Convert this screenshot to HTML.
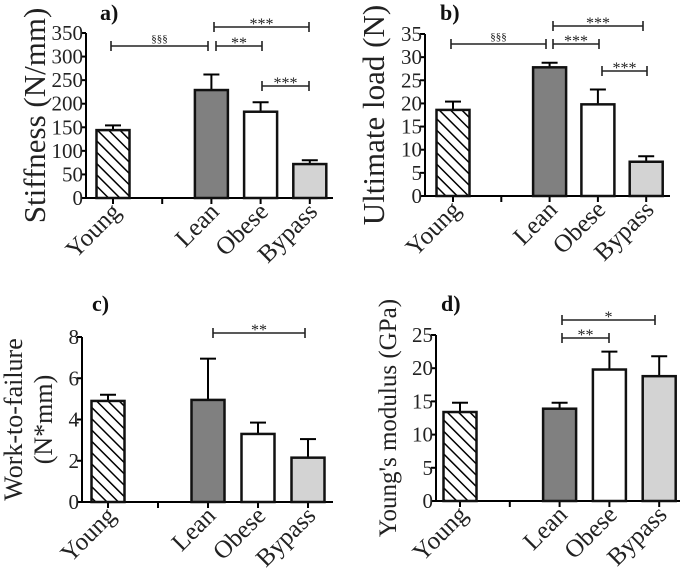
<!DOCTYPE html>
<html><head><meta charset="utf-8"><style>
html,body{margin:0;padding:0;background:#fff}
svg{display:block}
svg text{font-family:"Liberation Serif","Times New Roman",serif}
</style></head><body>
<svg id="c" width="685" height="571" viewBox="0 0 685 571" xmlns="http://www.w3.org/2000/svg">
<defs>
<pattern id="hatch" patternUnits="userSpaceOnUse" width="8" height="8" patternTransform="rotate(-45)">
<rect width="8" height="8" fill="#fff"/><line x1="0" y1="0" x2="0" y2="8" stroke="#000" stroke-width="3"/>
</pattern>
</defs>
</svg>
<script>
const categories = ["Young", "", "Lean", "Obese", "Bypass"];
const stiffnessValues = [144, null, 229, 183, 72];
const stiffnessErrors = [10, null, 33, 20, 8];
const loadValues = [18.6, null, 27.8, 19.8, 7.4];
const loadErrors = [1.8, null, 1.0, 3.2, 1.2];
const workValues = [4.9, null, 4.95, 3.3, 2.15];
const workErrors = [0.3, null, 2.0, 0.55, 0.9];
const modulusValues = [13.4, null, 13.9, 19.8, 18.8];
const modulusErrors = [1.4, null, 0.9, 2.7, 3.0];
const stiffnessTicks = [0, 50, 100, 150, 200, 250, 300, 350];
const loadTicks = [0, 5, 10, 15, 20, 25, 30, 35];
const workTicks = [0, 2, 4, 6, 8];
const modulusTicks = [0, 5, 10, 15, 20, 25];

const NS = "http://www.w3.org/2000/svg";
const svg = document.getElementById('c');
const SERIF = 'Liberation Serif, serif';
function mk(tag, attrs, parent, text) {
  const e = document.createElementNS(NS, tag);
  for (const k in attrs) e.setAttribute(k, attrs[k]);
  if (text !== undefined) e.textContent = text;
  (parent || svg).appendChild(e);
  return e;
}
const fills = ["url(#hatch)", "none", "#808080", "#ffffff", "#d3d3d3"];

function panel(cfg) {
  const g = mk('g', {});
  
  
  const max = cfg.ticks[cfg.ticks.length - 1];
  const y = v => cfg.y0 - (v / max) * (cfg.y0 - cfg.yTop);
  const x = i => cfg.x1 + i * cfg.step;
  const ax = mk('line', {x1: cfg.ax, y1: cfg.yTop, x2: cfg.ax, y2: cfg.y0, stroke: '#000', 'stroke-width': 2}, g);
  
  
  const xa = mk('line', {x1: cfg.ax, y1: cfg.y0, x2: cfg.axEnd, y2: cfg.y0, stroke: '#000', 'stroke-width': 2}, g);
  
  
  cfg.ticks.forEach(t => {
    mk('line', {x1: cfg.ax - 5, y1: y(t), x2: cfg.ax, y2: y(t), stroke: '#000', 'stroke-width': 2}, g);
    const tl = mk('text', {x: cfg.ax - 3, y: y(t) + 7, 'text-anchor': 'end', 'font-size': 21, 'font-family': SERIF, fill: '#222'}, g, t);
    
    
  });
  categories.forEach((c, i) => {
    mk('line', {x1: x(i), y1: cfg.y0, x2: x(i), y2: cfg.y0 + 6, stroke: '#000', 'stroke-width': 2}, g);
    if (c) {
      const tx = x(i) + 9, ty = cfg.y0 + 15;
      const l = mk('text', {x: 0, y: 0, 'text-anchor': 'end', 'font-size': 25, 'font-family': SERIF, fill: '#222', transform: `translate(${tx} ${ty}) rotate(-45)`}, g, c);
      
      
    }
    const v = cfg.values[i];
    if (v === null) return;
    const e = cfg.errors[i];
    const bx = x(i) - 16.5;
    const top = y(v + e);
    mk('line', {x1: x(i), y1: top, x2: x(i), y2: y(v), stroke: '#000', 'stroke-width': 2}, g);
    mk('line', {x1: x(i) - 8, y1: top, x2: x(i) + 8, y2: top, stroke: '#000', 'stroke-width': 2}, g);
    const b = mk('rect', {x: bx, y: y(v), width: 33, height: cfg.y0 - y(v), fill: fills[i], stroke: '#111', 'stroke-width': 2.5}, g);
    
    
  });
  const yt = mk('text', {x: 0, y: 0, 'text-anchor': 'middle', 'font-size': cfg.yFont, 'font-family': SERIF, fill: '#222', transform: `translate(${cfg.ytx} ${(cfg.y0 + cfg.yTop) / 2}) rotate(-90)`}, g);
  
  
  cfg.ytitle.forEach((line, k) => mk('tspan', {x: 0, dy: k === 0 ? 0 : 30}, yt, line));
  const pl = mk('text', {x: cfg.lx, y: cfg.ly, 'font-size': 22, 'font-weight': 'bold', 'font-family': SERIF, fill: '#111'}, g, cfg.label);
  
  
  cfg.brackets.forEach(br => {
    const by = br[2];
    mk('line', {x1: br[0], y1: by, x2: br[1], y2: by, stroke: '#222', 'stroke-width': 1.6}, g);
    mk('line', {x1: br[0], y1: by - 5, x2: br[0], y2: by + 5, stroke: '#222', 'stroke-width': 1.6}, g);
    mk('line', {x1: br[1], y1: by - 5, x2: br[1], y2: by + 5, stroke: '#222', 'stroke-width': 1.6}, g);
    const s = mk('text', {x: (br[0] + br[1]) / 2, y: br[3].startsWith('§') ? by - 4 : by + 2, 'text-anchor': 'middle', 'font-size': br[3].startsWith('§') ? 11 : 16, 'font-family': 'Liberation Sans, sans-serif', fill: '#222'}, g, br[3]);
    
    
  });
}

panel({name: 'panel-a-stiffness', values: stiffnessValues, errors: stiffnessErrors, ticks: stiffnessTicks,
  ax: 86, axEnd: 333, y0: 198, yTop: 33, x1: 113, step: 49.2, ytitle: ['Stiffness (N/mm)'], yFont: 31, ytx: 45,
  label: 'a)', lx: 100, ly: 20,
  brackets: [[111, 208, 46, '§§§'], [214, 309, 27, '***'], [216, 262, 46, '**'], [262, 309, 86, '***']]});
panel({name: 'panel-b-ultimate-load', values: loadValues, errors: loadErrors, ticks: loadTicks,
  ax: 425, axEnd: 670, y0: 196, yTop: 34, x1: 453, step: 48.3, ytitle: ['Ultimate load (N)'], yFont: 31, ytx: 384,
  label: 'b)', lx: 440, ly: 20,
  brackets: [[451, 546, 44, '§§§'], [553, 643, 26, '***'], [553, 599, 44, '***'], [602, 647, 71, '***']]});
panel({name: 'panel-c-work-to-failure', values: workValues, errors: workErrors, ticks: workTicks,
  ax: 82, axEnd: 333, y0: 502, yTop: 337, x1: 108, step: 50, ytitle: ['Work-to-failure', '(N*mm)'], yFont: 26, ytx: 22,
  label: 'c)', lx: 92, ly: 311,
  brackets: [[213, 305, 333, '**']]});
panel({name: 'panel-d-youngs-modulus', values: modulusValues, errors: modulusErrors, ticks: modulusTicks,
  ax: 436, axEnd: 680, y0: 501, yTop: 335, x1: 460, step: 49.8, ytitle: ["Young's modulus (GPa)"], yFont: 25, ytx: 396,
  label: 'd)', lx: 441, ly: 311,
  brackets: [[562, 655, 320, '*'], [562, 609, 338, '**']]});
</script>
</body></html>
